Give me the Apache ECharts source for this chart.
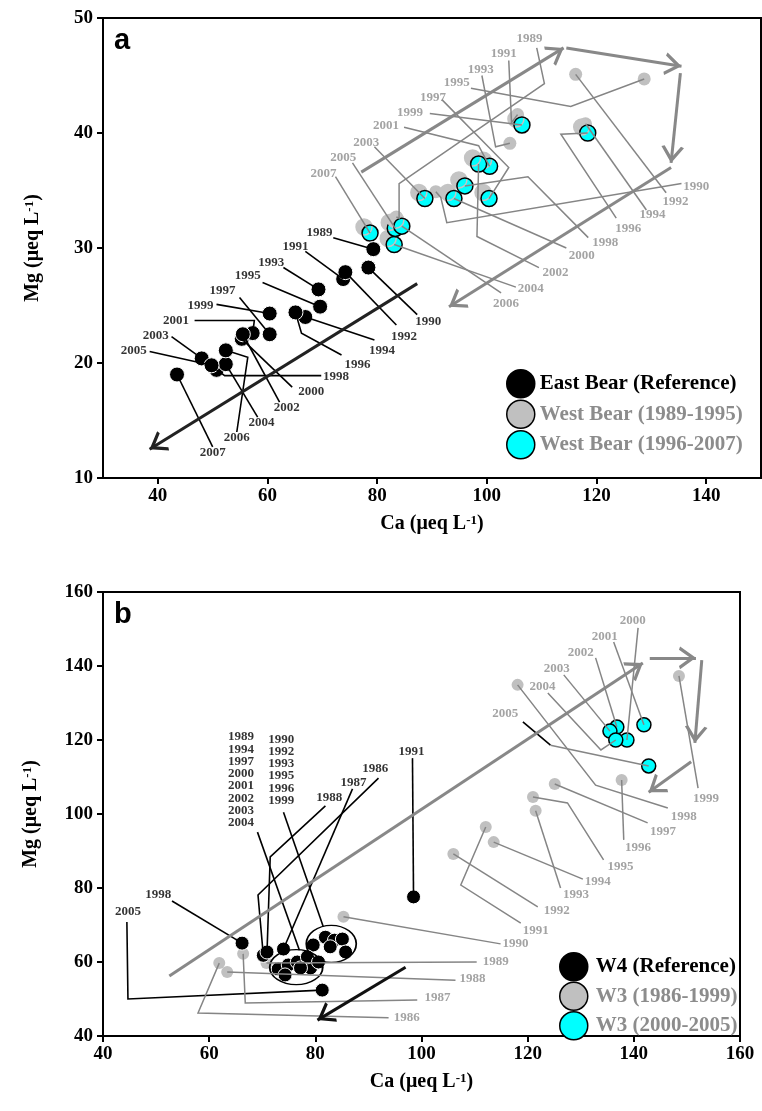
<!DOCTYPE html>
<html><head><meta charset="utf-8">
<script src="https://cdn.jsdelivr.net/npm/echarts@6/dist/echarts.min.js"></script>
<style>html,body{margin:0;padding:0;background:#fff}#c{width:762px;height:1111px}</style>
</head><body><div id="c"></div>
<script>
// ---------------- DATA: panel a (East / West Bear) ----------------
const ebYears = [1989,1990,1991,1992,1993,1994,1995,1996,1997,1998,1999,2000,2001,2002,2003,2004,2005,2006,2007];
const ebCa = [79.3,78.4,73.8,74.2,69.3,66.9,69.6,65.1,60.4,50.7,60.4,55.3,57.3,55.5,48.0,52.4,49.8,52.4,43.5];
const ebMg = [29.9,28.3,27.3,27.9,26.4,24.0,24.9,24.4,22.5,19.4,24.3,22.1,22.6,22.5,20.4,19.9,19.8,21.1,19.0];

const wbEarlyYears = [1989,1990,1991,1992,1993,1994,1995];
const wbEarlyCa = [83.5,90.7,105.6,116.2,104.2,118.0,128.7];
const wbEarlyMg = [32.7,34.9,41.6,45.1,39.1,40.8,44.7];

const wbLateYears = [1996,1997,1998,1999,2000,2001,2002,2003,2004,2005,2006,2007];
const wbLateCa = [118.4,100.4,96.0,106.4,94.0,100.5,98.5,88.7,83.1,83.3,84.5,78.7];
const wbLateMg = [40.0,34.3,35.4,40.7,34.3,37.1,37.3,34.3,30.3,31.7,31.9,31.3];

// ---------------- DATA: panel b (W4 / W3) ----------------
const w4Years = [1986,1987,1988,1989,1990,1991,1992,1993,1994,1995,1996,1997,1998,1999,2000,2001,2002,2003,2004,2005];
const w4Ca = [70.2,74.0,70.9,73.0,79.6,98.5,81.9,83.6,74.9,85.1,85.7,76.6,66.2,82.8,79.1,78.5,77.2,74.3,80.6,81.3];
const w4Mg = [61.8,63.5,62.7,58.1,64.6,77.6,66.7,65.9,59.2,66.2,62.7,60.0,65.1,64.1,58.4,61.4,58.4,56.5,60.0,52.4];

const w3EarlyYears = [1986,1987,1988,1989,1990,1991,1992,1993,1994,1995,1996,1997,1998,1999];
const w3EarlyCa = [61.9,66.4,63.4,70.8,85.3,112.1,106.0,121.5,113.6,121.0,137.7,125.1,118.1,148.5];
const w3EarlyMg = [59.7,62.2,57.3,59.7,72.2,96.5,89.2,100.9,92.4,104.6,109.2,108.1,134.9,137.3];

const w3LateYears = [2000,2001,2002,2003,2004,2005];
const w3LateCa = [138.7,141.9,136.8,135.5,136.6,142.8];
const w3LateMg = [120.0,124.1,123.5,122.4,120.0,113.0];

// ---------------- axes / ticks ----------------
const aXTicks = [40,60,80,100,120,140];
const aYRange = [10,50], aXRange = [30,150];
const bXRange = [40,160], bYRange = [40,160];

// ---------------- annotations (data coordinates) ----------------
// [year, labelX, labelY, leader path up to the point]
const ebNotes = [
 [1989,69.5,31.3,[[72.0,30.9]]],[1990,89.3,23.6,[[87.3,24.2]]],[1991,65.1,30.1,[[66.9,29.7]]],
 [1992,84.9,22.3,[[83.5,23.3]]],[1993,60.7,28.7,[[62.9,28.3]]],[1994,80.9,21.1,[[79.5,22.0]]],
 [1995,56.4,27.6,[[59.1,27.0]]],[1996,76.4,19.9,[[73.5,20.7],[66.2,22.6]]],[1997,51.8,26.3,[[54.9,25.7]]],
 [1998,72.5,18.8,[[69.8,18.9],[52.2,18.9]]],[1999,47.8,25.0,[[50.7,25.1]]],[2000,68.0,17.5,[[64.5,17.9]]],
 [2001,43.3,23.7,[[46.7,23.7],[57.6,23.7]]],[2002,63.5,16.1,[[62.2,16.6]]],[2003,39.6,22.4,[[42.5,22.3]]],
 [2004,58.9,14.8,[[58.2,15.3]]],[2005,35.6,21.1,[[38.5,21.0]]],[2006,54.4,13.5,[[54.4,14.0],[56.4,20.5]]],
 [2007,50.0,12.2,[[50.0,12.7]]]
];
const wbEarlyNotes = [
 [1989,107.8,48.2,[[109.1,47.4],[110.5,44.3],[84.0,35.6],[84.0,32.6]]],
 [1990,138.2,35.3,[[135.5,35.6],[92.7,32.2],[91.6,34.4]]],
 [1991,103.1,46.9,[[104.0,46.3],[104.5,40.9]]],
 [1992,134.4,34.0,[[132.7,34.8]]],
 [1993,98.9,45.5,[[99.1,45.0],[101.6,38.8]]],
 [1994,130.2,32.9,[[129.1,33.3]]],
 [1995,94.5,44.4,[[97.1,43.9],[115.3,42.3]]]
];
const wbLateNotes = [
 [1996,125.8,31.7,[[123.6,32.6],[113.5,39.9]]],[1997,90.2,43.1,[[91.8,42.9],[104.0,37.0]]],
 [1998,121.6,30.5,[[118.5,30.9],[107.5,36.2]]],[1999,86.0,41.8,[[89.6,41.7]]],
 [2000,117.3,29.3,[[114.5,30.0]]],[2001,81.6,40.6,[[84.9,40.5],[98.5,38.9]]],
 [2002,112.5,27.9,[[109.5,28.3],[98.2,31.0]]],[2003,78.0,39.2,[[79.5,38.8]]],
 [2004,108.0,26.5,[[105.3,26.6]]],[2005,73.8,37.9,[[75.5,37.4]]],
 [2006,103.5,25.2,[[102.6,26.1]]],[2007,70.2,36.5,[[72.4,36.2]]]
];
const aArrowsGrey = [[[77.1,36.6],[114.0,47.4]],[[114.5,47.4],[135.5,45.8]],[[135.3,45.2],[133.6,37.4]],[[133.6,37.0],[93.1,24.9]]];
const aArrowsBlack = [[[87.3,26.9],[38.5,12.5]]];

const w4Notes = [
 [1986,91.3,112.2,[[91.9,109.7],[69.2,78.1]]],[1987,87.2,108.6,[[87.0,106.8]]],
 [1988,82.6,104.3,[[81.9,102.2],[71.5,88.4]]],[1991,98.1,116.8,[[98.3,115.1]]],
 [1998,50.4,78.1,[[53.0,76.5]]],[2005,44.7,73.5,[[44.5,70.8],[44.7,50.0]]]
];
const w4GroupLeft = ['1989','1994','1997','2000','2001','2002','2003','2004'];
const w4GroupRight = ['1990','1992','1993','1995','1996','1999'];
const w4GroupText = [[66.0,109.2,w4GroupLeft],[73.6,111.9,w4GroupRight]];
const w4GroupLines = [[[69.1,95.1],[77.0,63.2]],[[74.0,100.5],[81.5,69.5]],[[119.1,124.9],[124.3,118.6]]];
const w4Ellipses = [[76.4,58.6,53,35],[83.0,64.9,50,37]];
const w3EarlyNotes = [
 [1986,97.2,44.9,[[93.8,44.9],[57.9,46.2]]],[1987,103.0,50.3,[[99.2,49.7],[66.8,48.9]]],
 [1988,109.6,55.4,[[106.4,55.1]]],[1989,114.0,60.0,[[110.4,60.0]]],[1990,117.7,64.9,[[114.9,64.9]]],
 [1991,121.5,68.6,[[118.7,70.5],[107.4,80.8]]],[1992,125.5,73.8,[[121.9,74.9]]],
 [1993,129.1,78.1,[[126.2,80.0]]],[1994,133.2,81.6,[[130.4,82.4]]],
 [1995,137.5,85.7,[[134.3,87.6],[127.5,103.0]]],[1996,140.8,90.8,[[138.1,93.0]]],
 [1997,145.5,95.1,[[142.6,97.6]]],[1998,149.4,99.2,[[146.4,101.6],[132.8,107.8]]],
 [1999,153.6,104.1,[[152.1,107.0]]]
];
const w3LateNotes = [
 [2000,139.8,152.2,[[140.8,150.3]]],[2001,134.5,147.8,[[136.2,146.5]]],[2002,130.0,143.5,[[132.8,142.2]]],
 [2003,125.5,139.2,[[126.8,137.6]]],[2004,122.8,134.3,[[123.8,132.7],[133.8,117.3]]],
 [2005,115.8,127.0,[[124.3,118.6]]]
];
const bArrowsGrey = [[[52.5,56.2],[141.7,140.8]],[[143.0,142.2],[151.7,142.2]],[[152.8,141.6],[151.5,119.2]],[[150.8,114.1],[142.8,105.9]]];
const bArrowsBlack = [[[97.0,58.6],[80.4,44.3]]];

// ---------------- styles ----------------
const F = 'Liberation Serif';
const GT = '#8c8c8c', GL = '#858585', GP = '#c0c0c0', CY = '#00ffff';
const CHEV = 'path://M0,0L0.3,0.3L0,0.3ZM120,0L119.7,0.3L120,0.3ZM60,60L100,116L89,120L60,80L31,120L20,116Z';

function pts(xs, ys){ return xs.map((x,i)=>[x, ys[i]]); }
function leaders(notes, years, xs, ys){
  return notes.map(n=>{ const i = years.indexOf(n[0]); return {coords: n[3].concat([[xs[i], ys[i]]])}; });
}
function texts(notes){ return notes.map(n=>[n[1], n[2], String(n[0])]); }

function scatter(name, gi, data, size, itemStyle){
  return {type:'scatter', name, xAxisIndex:gi, yAxisIndex:gi, data, symbol:'circle',
    symbolSize:size, z:2, silent:true, itemStyle:Object.assign({opacity:1}, itemStyle)};
}
function polyLines(gi, data, color, w){
  return {type:'lines', coordinateSystem:'cartesian2d', xAxisIndex:gi, yAxisIndex:gi, polyline:true,
    data, silent:true, z:4, lineStyle:{color, width:w, opacity:1}};
}
function arrows(gi, segs, color, w, size){
  return {type:'lines', coordinateSystem:'cartesian2d', xAxisIndex:gi, yAxisIndex:gi,
    data: segs.map(s=>({coords:s})), symbol:['none', CHEV], symbolSize:size, silent:true, z:6,
    lineStyle:{color, width:w, opacity:1}, itemStyle:{color, opacity:1}};
}
function textSeries(gi, data, color, size, lh){
  return {type:'scatter', xAxisIndex:gi, yAxisIndex:gi, data, symbol:'circle', symbolSize:1, silent:true, z:5,
    itemStyle:{color:'rgba(0,0,0,0)'},
    label:{show:true, position:'inside', formatter:p=>p.value[2], color, fontFamily:F, fontWeight:'bold',
      fontSize:size, lineHeight:lh||size}};
}

const axisCommon = {
  axisLine:{show:true, lineStyle:{color:'#000', width:2}},
  axisTick:{show:true, inside:false, length:6, lineStyle:{color:'#000', width:2}},
  splitLine:{show:false},
  nameLocation:'middle',
  nameTextStyle:{fontFamily:F, fontWeight:'bold', fontSize:20, color:'#000',
    rich:{s:{fontFamily:F, fontWeight:'bold', fontSize:13, verticalAlign:'top', lineHeight:12, color:'#000'}}}
};
const lab = {fontFamily:F, fontWeight:'bold', fontSize:19, color:'#000'};

const chart = echarts.init(document.getElementById('c'), null, {renderer:'canvas'});
const option = {
  animation:false,
  backgroundColor:'#fff',
  title:[
    {text:'a', left:114, top:26, padding:0, textStyle:{fontFamily:'Liberation Sans', fontWeight:'bold', fontSize:29, color:'#000'}},
    {text:'b', left:114, top:600, padding:0, textStyle:{fontFamily:'Liberation Sans', fontWeight:'bold', fontSize:29, color:'#000'}}
  ],
  grid:[
    {left:103, top:18, right:1, height:460, show:true, borderColor:'#000', borderWidth:2, containLabel:false},
    {left:103, top:592, right:22, height:444, show:true, borderColor:'#000', borderWidth:2, containLabel:false}
  ],
  xAxis:[
    Object.assign({}, axisCommon, {type:'value', gridIndex:0, min:aXRange[0], max:aXRange[1], interval:10,
      name:'Ca (μeq L{s|-1})', nameGap:36,
      axisLabel:Object.assign({margin:9, customValues:aXTicks}, lab),
      axisTick:Object.assign({}, axisCommon.axisTick, {customValues:aXTicks})}),
    Object.assign({}, axisCommon, {type:'value', gridIndex:1, min:bXRange[0], max:bXRange[1], interval:20,
      name:'Ca (μeq L{s|-1})', nameGap:36, axisLabel:Object.assign({margin:9}, lab)})
  ],
  yAxis:[
    Object.assign({}, axisCommon, {type:'value', gridIndex:0, min:aYRange[0], max:aYRange[1], interval:10,
      name:'Mg (μeq L{s|-1})', nameGap:60, axisLabel:Object.assign({margin:10}, lab)}),
    Object.assign({}, axisCommon, {type:'value', gridIndex:1, min:bYRange[0], max:bYRange[1], interval:20,
      name:'Mg (μeq L{s|-1})', nameGap:62, axisLabel:Object.assign({margin:10}, lab)})
  ],
  legend:[
    {left:501, top:364, orient:'vertical', itemWidth:28, itemHeight:28, itemGap:1, selectedMode:false,
     textStyle:{fontFamily:F, fontWeight:'bold', fontSize:21, padding:[0,0,0,0]},
     data:[
      {name:'East Bear (Reference)', icon:'circle', itemStyle:{color:'#000', borderColor:'#000', borderWidth:1.5, opacity:1}, textStyle:{color:'#000'}},
      {name:'West Bear (1989-1995)', icon:'circle', itemStyle:{color:GP, borderColor:'#000', borderWidth:1.5, opacity:1}, textStyle:{color:GT}},
      {name:'West Bear (1996-2007)', icon:'circle', itemStyle:{color:CY, borderColor:'#000', borderWidth:1.5, opacity:1, shadowBlur:0, shadowOffsetX:0, shadowOffsetY:0, shadowColor:'rgba(0,0,0,0)'}, textStyle:{color:GT}}
     ]},
    {left:554, top:947, orient:'vertical', itemWidth:28, itemHeight:28, itemGap:0, selectedMode:false,
     textStyle:{fontFamily:F, fontWeight:'bold', fontSize:21, padding:[0,0,0,3]},
     data:[
      {name:'W4 (Reference)', icon:'circle', itemStyle:{color:'#000', borderColor:'#000', borderWidth:1.5, opacity:1}, textStyle:{color:'#000'}},
      {name:'W3 (1986-1999)', icon:'circle', itemStyle:{color:GP, borderColor:'#000', borderWidth:1.5, opacity:1}, textStyle:{color:GT}},
      {name:'W3 (2000-2005)', icon:'circle', itemStyle:{color:CY, borderColor:'#000', borderWidth:1.5, opacity:1}, textStyle:{color:GT}}
     ]}
  ],
  series:[
    // panel a points
    scatter('West Bear (1989-1995)', 0, pts(wbEarlyCa, wbEarlyMg), 13, {color:GP}),
    scatter('West Bear (1996-2007)', 0, pts(wbLateCa, wbLateMg), 16,
      {color:CY, borderColor:'#000', borderWidth:1.5, shadowColor:'#c4c4c4', shadowBlur:0, shadowOffsetX:-6, shadowOffsetY:-6}),
    scatter('East Bear (Reference)', 0, pts(ebCa, ebMg), 15, {color:'#000', borderColor:'#fff', borderWidth:1}),
    // panel a leaders + texts
    polyLines(0, leaders(ebNotes, ebYears, ebCa, ebMg), '#000', 1.6),
    polyLines(0, leaders(wbEarlyNotes, wbEarlyYears, wbEarlyCa, wbEarlyMg).concat(
      leaders(wbLateNotes, wbLateYears, wbLateCa, wbLateMg)), GL, 1.5),
    textSeries(0, texts(ebNotes), '#000', 13),
    textSeries(0, texts(wbEarlyNotes).concat(texts(wbLateNotes)), GT, 13),
    arrows(0, aArrowsGrey, '#888', 3, 34),
    arrows(0, aArrowsBlack, '#222', 3, 34),

    // panel b points
    scatter('W3 (1986-1999)', 1, pts(w3EarlyCa, w3EarlyMg), 12, {color:GP}),
    scatter('W3 (2000-2005)', 1, pts(w3LateCa, w3LateMg), 14, {color:CY, borderColor:'#000', borderWidth:1.5}),
    scatter('W4 (Reference)', 1, pts(w4Ca, w4Mg), 14, {color:'#000', borderColor:'#fff', borderWidth:1}),
    {type:'scatter', xAxisIndex:1, yAxisIndex:1, silent:true, z:3, symbol:'circle',
      data: w4Ellipses.map(e=>({value:[e[0], e[1]], symbolSize:[e[2], e[3]]})),
      itemStyle:{color:'rgba(0,0,0,0)', borderColor:'#000', borderWidth:1.5, opacity:1}},
    polyLines(1, leaders(w4Notes, w4Years, w4Ca, w4Mg).concat(w4GroupLines.map(c=>({coords:c}))), '#000', 1.6),
    polyLines(1, leaders(w3EarlyNotes, w3EarlyYears, w3EarlyCa, w3EarlyMg).concat(
      leaders(w3LateNotes, w3LateYears, w3LateCa, w3LateMg)), GL, 1.5),
    textSeries(1, texts(w4Notes), '#000', 13),
    textSeries(1, w4GroupText.map(g=>[g[0], g[1], g[2].join('\n')]), '#000', 13, 12.3),
    textSeries(1, texts(w3EarlyNotes).concat(texts(w3LateNotes)), GT, 13),
    arrows(1, bArrowsGrey, '#888', 3, 34),
    arrows(1, bArrowsBlack, '#111', 3, 34)
  ]
};
chart.setOption(option);
</script></body></html>
